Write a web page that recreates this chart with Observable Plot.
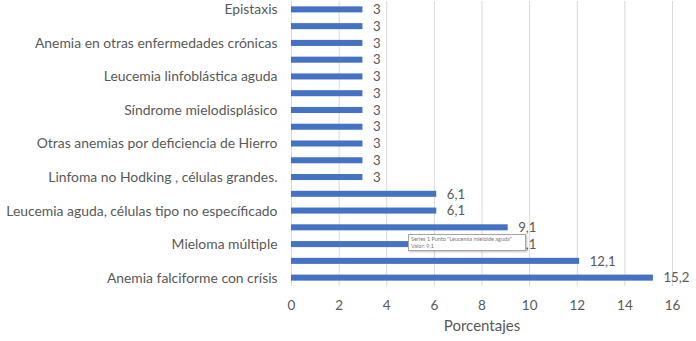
<!DOCTYPE html>
<html>
<head>
<meta charset="utf-8">
<script src="https://cdn.jsdelivr.net/npm/d3@7"></script>
<script src="https://cdn.jsdelivr.net/npm/@observablehq/plot@0.6"></script>
<style>
  html, body { margin: 0; padding: 0; background: #fff; }
  #wrap { position: relative; width: 696px; height: 341px; }
  #tip {
    position: absolute; left: 408px; top: 234px; width: 118px; height: 17px;
    background: #fff; border: 1px solid #a6a6a6; box-shadow: 1px 1px 2px rgba(0,0,0,0.25);
    font-family: Lato, sans-serif; font-size: 5.5px; line-height: 7px; color: #777;
    padding: 1px 2px; box-sizing: border-box;
  }
</style>
</head>
<body>
<div id="wrap"></div>
<script>
const categories = [
  "Epistaxis",
  "Categoría 2",
  "Anemia en otras enfermedades crónicas",
  "Categoría 4",
  "Leucemia linfoblástica aguda",
  "Categoría 6",
  "Síndrome mielodisplásico",
  "Categoría 8",
  "Otras anemias por deficiencia de Hierro",
  "Categoría 10",
  "Linfoma no Hodking , células grandes.",
  "Categoría 12",
  "Leucemia aguda, células tipo no específicado",
  "Leucemia mieloide aguda",
  "Mieloma múltiple",
  "Categoría 16",
  "Anemia falciforme con crísis"
];
const values = [3, 3, 3, 3, 3, 3, 3, 3, 3, 3, 3, 6.1, 6.1, 9.1, 9.1, 12.1, 15.2];
const labeledCategories = [
  "Epistaxis",
  "Anemia en otras enfermedades crónicas",
  "Leucemia linfoblástica aguda",
  "Síndrome mielodisplásico",
  "Otras anemias por deficiencia de Hierro",
  "Linfoma no Hodking , células grandes.",
  "Leucemia aguda, células tipo no específicado",
  "Mieloma múltiple",
  "Anemia falciforme con crísis"
];
const xTicks = [0, 2, 4, 6, 8, 10, 12, 14, 16];

const data = categories.map((c, i) => ({category: c, value: values[i]}));
const fmt = v => String(v).replace(".", ",");
const textColor = "#595959";

const chart = Plot.plot({
  width: 696,
  height: 341,
  marginLeft: 291,
  marginRight: 24,
  marginTop: 1,
  marginBottom: 55,
  style: {fontFamily: "Lato, sans-serif", color: textColor, background: "#fff"},
  x: {domain: [0, 16]},
  y: {domain: categories, paddingInner: 0.64, paddingOuter: 0.32, round: false},
  marks: [
    Plot.gridX(xTicks, {stroke: "#d9d9d9", strokeOpacity: 1, strokeWidth: 1}),
    Plot.barX(data, {x: "value", y: "category", fill: "#4472C4"}),
    Plot.text(data, {x: "value", y: "category", text: d => fmt(d.value), textAnchor: "start", dx: 10, fontSize: 13.2, fill: textColor}),
    Plot.axisY({ticks: labeledCategories, tickSize: 0, tickPadding: 14, fontSize: 13.9, label: null}),
    Plot.axisX({ticks: xTicks, tickSize: 0, tickPadding: 14, fontSize: 13.5, label: null}),
    Plot.axisX({ticks: [], tickSize: 0, fontSize: 15, label: "Porcentajes", labelAnchor: "center", labelOffset: 44, labelArrow: "none"})
  ]
});
const wrap = document.getElementById("wrap");
wrap.appendChild(chart);
const tip = document.createElement("div");
tip.id = "tip";
tip.innerHTML = 'Series 1 Punto "Leucemia mieloide aguda"<br>Valor: 9,1';
wrap.appendChild(tip);
</script>
</body>
</html>
